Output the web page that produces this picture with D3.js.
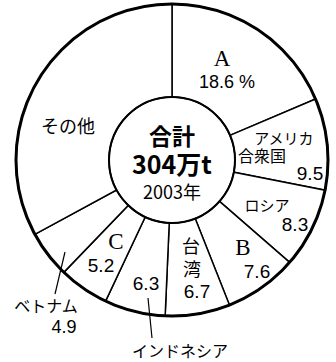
<!DOCTYPE html>
<html><head><meta charset="utf-8">
<script src="https://cdn.jsdelivr.net/npm/d3@7"></script>
<style>
html,body{margin:0;padding:0;background:#fff;}
svg{display:block;}
</style></head>
<body>
<svg id="chart" width="336" height="362"></svg>
<script>
const categories = ["A", "アメリカ合衆国", "ロシア", "B", "台湾", "インドネシア", "C", "ベトナム", "その他"];
const shares = [18.6, 9.5, 8.3, 7.6, 6.7, 6.3, 5.2, 4.9, 32.9];
const totalTitle = ["合計", "304万t", "2003年"];

const svg = d3.select("#chart");
const cx = 172, cy = 160, rOuter = 156, rInner = 63;
const JP = "'Noto Sans CJK JP','Noto Sans',sans-serif";
const NUM = "'Liberation Sans',Arial,sans-serif";
const SERIF = "'Liberation Serif','Times New Roman',serif";

const data = categories.map((c, i) => ({cat: c, v: shares[i]}));
const pie = d3.pie().sort(null).value(d => d.v).startAngle(0).endAngle(2 * Math.PI);
const arc = d3.arc().innerRadius(rInner).outerRadius(rOuter);
const g = svg.append("g").attr("transform", `translate(${cx},${cy})`);

g.selectAll("path.slice").data(pie(data)).join("path")
  .attr("class", "slice")
  .attr("d", arc)
  .attr("fill", "#fff")
  .attr("stroke", "#000")
  .attr("stroke-width", 1.5);

g.append("circle").attr("r", rOuter).attr("fill", "none").attr("stroke", "#000").attr("stroke-width", 3);
g.append("circle").attr("r", rInner).attr("fill", "none").attr("stroke", "#000").attr("stroke-width", 2);

// centre text
g.append("text").attr("x", 0).attr("y", -25).attr("text-anchor", "middle").attr("dominant-baseline", "central")
  .attr("font-family", JP).attr("font-weight", "bold").attr("font-size", 23).text(totalTitle[0]);
g.append("text").attr("x", 0).attr("y", 3).attr("text-anchor", "middle").attr("dominant-baseline", "central")
  .attr("font-family", JP).attr("font-weight", "bold").attr("font-size", 25).text(totalTitle[1]);
g.append("text").attr("x", 0).attr("y", 31).attr("text-anchor", "middle").attr("dominant-baseline", "central")
  .attr("font-family", JP).attr("font-size", 18).text(totalTitle[2]);

// label layout (page coords of text centres)
const labelLayout = {
  "A":            [{t: "A", x: 222, y: 58, f: SERIF, s: 23}, {t: "%v %", x: 227, y: 82, f: NUM, s: 18}],
  "アメリカ合衆国": [{t: "アメリカ", x: 284, y: 137, f: JP, s: 15}, {t: "合衆国", x: 262, y: 155, f: JP, s: 16}, {t: "%v", x: 310, y: 173, f: NUM, s: 19}],
  "ロシア":        [{t: "ロシア", x: 267, y: 204, f: JP, s: 15}, {t: "%v", x: 295, y: 224, f: NUM, s: 19}],
  "B":            [{t: "B", x: 243, y: 247, f: SERIF, s: 23}, {t: "%v", x: 257, y: 271, f: NUM, s: 19}],
  "台湾":          [{t: "台", x: 191, y: 245, f: JP, s: 18}, {t: "湾", x: 192, y: 268, f: JP, s: 18}, {t: "%v", x: 197, y: 291, f: NUM, s: 19}],
  "インドネシア":   [{t: "%v", x: 146, y: 283, f: NUM, s: 19}, {t: "インドネシア", x: 180, y: 350, f: JP, s: 16}],
  "C":            [{t: "C", x: 116, y: 241, f: SERIF, s: 23}, {t: "%v", x: 101, y: 265, f: NUM, s: 19}],
  "ベトナム":       [{t: "ベトナム", x: 46, y: 305, f: JP, s: 16}, {t: "%v", x: 64, y: 327, f: NUM, s: 18}],
  "その他":        [{t: "その他", x: 68, y: 125, f: JP, s: 18}]
};

data.forEach(d => {
  (labelLayout[d.cat] || []).forEach(l => {
    svg.append("text")
      .attr("x", l.x).attr("y", l.y)
      .attr("text-anchor", "middle").attr("dominant-baseline", "central")
      .attr("font-family", l.f).attr("font-size", l.s)
      .text(l.t.replace("%v", d3.format(".1f")(d.v)));
  });
});

// leader lines
const leaders = [[65, 252, 55, 294], [148, 298, 152, 338]];
svg.selectAll("line.leader").data(leaders).join("line")
  .attr("class", "leader")
  .attr("x1", d => d[0]).attr("y1", d => d[1]).attr("x2", d => d[2]).attr("y2", d => d[3])
  .attr("stroke", "#000").attr("stroke-width", 1.2);
</script>
</body></html>
